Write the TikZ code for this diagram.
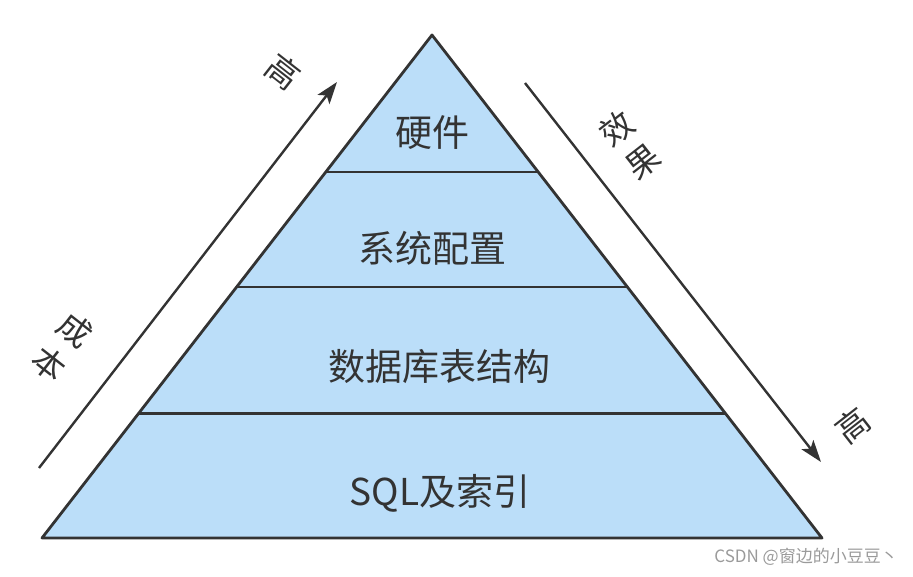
\documentclass[tikz,border=0pt]{standalone}
\usepackage{fontspec}
\setmainfont{Noto Sans CJK SC}
\usetikzlibrary{positioning, arrows.meta, calc}

\definecolor{layerblue}{HTML}{BBDEF9}
\definecolor{linegray}{HTML}{333333}
\definecolor{textgray}{HTML}{333333}
\definecolor{markgray}{HTML}{9A9A9A}

\begin{document}
\begin{tikzpicture}[
			x=1pt,
			y=-1pt,
			layer/.style={
				font=\fontsize{37}{42}\selectfont,
				text=textgray
			},
			side/.style={
				font=\fontsize{33}{40}\selectfont,
				text=textgray,
				inner sep=0pt
			},
			outline/.style={
				draw=linegray,
				line width=2.8pt,
				line join=round
			},
			divider/.style={
				draw=linegray,
				line width=2.6pt
			},
			axis/.style={
				draw=linegray,
				line width=2.4pt,
				-{Stealth[length=22pt, width=15pt, inset=5pt]}
			}
			]
			\useasboundingbox (0,0) rectangle (913,577);
			% Pyramid
			\coordinate (apex) at (432,35);
			\coordinate (bl) at (42,538);
			\coordinate (br) at (822,538);
			\fill[layerblue] (apex) -- (bl) -- (br) -- cycle;
			\foreach \t/\n in {0.272/a, 0.501/b, 0.753/c} {
				\coordinate (l\n) at ($(apex)!\t!(bl)$);
				\coordinate (r\n) at ($(apex)!\t!(br)$);
				\draw[divider] (l\n) -- (r\n);
			}
			\draw[outline] (apex) -- (bl) -- (br) -- cycle;
			% Layers
			\node[layer] (hw) at (432,133) {硬件};
			\node[layer] (cfg) at (432,248) {系统配置};
			\node[layer] (tbl) at (439,367) {数据库表结构};
			\node[layer] (sql) at (440,493) {SQL及索引};
			% Axes
			\coordinate (costlow) at (39,468);
			\coordinate (costhigh) at (337,82);
			\coordinate (efflow) at (525,83);
			\coordinate (effhigh) at (821,462);
			\draw[axis] (costlow) -- (costhigh);
			\draw[axis] (efflow) -- (effhigh);
			\node[side, rotate=-38] (cheng) at (75,330) {成};
			\node[side, rotate=-38] (ben) at (49,364) {本};
			\node[side, rotate=-38] (costtop) at (283,72) {高};
			\node[side, rotate=38] (xiao) at (617,128) {效};
			\node[side, rotate=38] (guo) at (643,162) {果};
			\node[side, rotate=38] (effend) at (853,425) {高};
			% Watermark
			\node[anchor=east, text=markgray, font=\fontsize{17}{20}\selectfont, inner sep=0pt] (mark) at (898,557) {CSDN @窗边的小豆豆丶};
		\end{tikzpicture}
\end{document}
